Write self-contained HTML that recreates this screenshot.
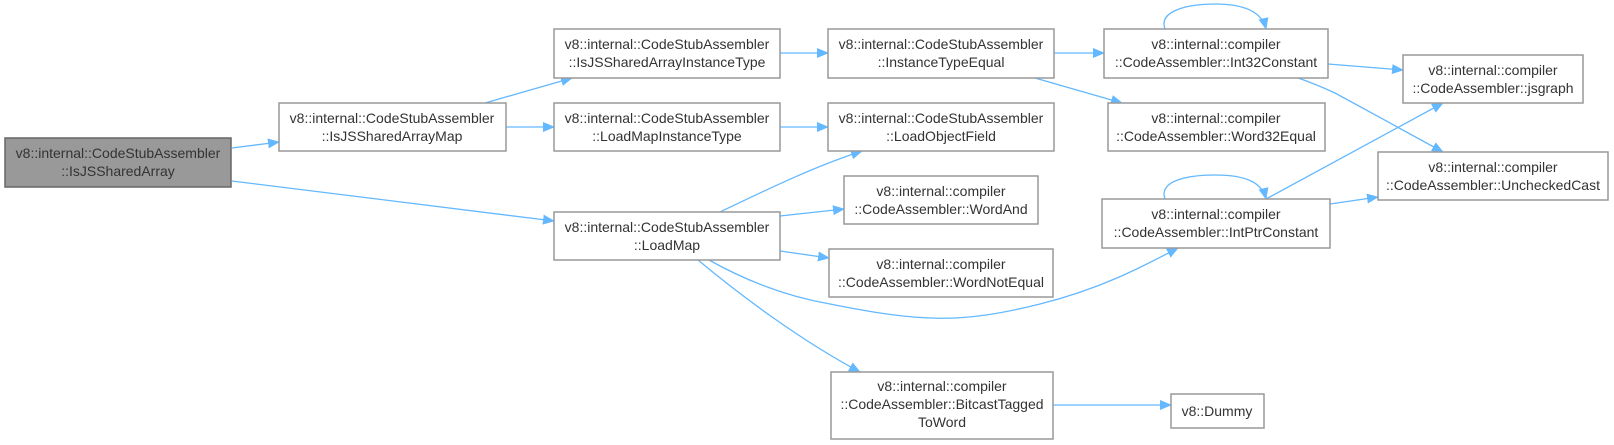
<!DOCTYPE html>
<html><head><meta charset="utf-8"><style>
html,body{margin:0;padding:0;background:#fff;}
svg{display:block;}
text{font-family:"Liberation Sans",sans-serif;font-size:14px;fill:#333;text-anchor:middle;}
.b{fill:#fff;stroke:#999;stroke-width:1.5;}
.e{fill:none;stroke:#63b8ff;stroke-width:1.3;}
</style></head><body>
<svg width="1614" height="445" viewBox="0 0 1614 445" xmlns="http://www.w3.org/2000/svg">
<defs><marker id="a" markerWidth="12" markerHeight="10" refX="11" refY="5" orient="auto" markerUnits="userSpaceOnUse"><path d="M0,0 L12,5 L0,10 z" fill="#63b8ff"/></marker></defs>

<!-- edges -->
<path class="e" marker-end="url(#a)" d="M232,148 L279,142"/>
<path class="e" marker-end="url(#a)" d="M232,181 L554,221"/>
<path class="e" marker-end="url(#a)" d="M485,103 L572,78"/>
<path class="e" marker-end="url(#a)" d="M506,127 L554,127"/>
<path class="e" marker-end="url(#a)" d="M780,53 L828,53"/>
<path class="e" marker-end="url(#a)" d="M780,127 L828,127"/>
<path class="e" marker-end="url(#a)" d="M720,212 C760,193 810,168 862,151"/>
<path class="e" marker-end="url(#a)" d="M780,216 L844,209"/>
<path class="e" marker-end="url(#a)" d="M780,251 L829,258"/>
<path class="e" marker-end="url(#a)" d="M698,260 C740,295 800,340 860,372"/>
<path class="e" marker-end="url(#a)" d="M709,260 C750,283 790,297 830,304 C920,322 960,324 1040,304 C1100,289 1140,268 1178,248"/>
<path class="e" marker-end="url(#a)" d="M1054,53 L1104,53"/>
<path class="e" marker-end="url(#a)" d="M1035,78 L1122,103"/>
<path class="e" marker-end="url(#a)" d="M1328,64 L1403,70"/>
<path class="e" marker-end="url(#a)" d="M1298,78 C1310,82 1322,87 1335,93 C1370,112 1410,134 1443,152"/>
<path class="e" marker-end="url(#a)" d="M1266,199 L1443,103"/>
<path class="e" marker-end="url(#a)" d="M1330,204 L1378,197"/>
<path class="e" marker-end="url(#a)" d="M1053,405 L1171,405"/>
<path class="e" marker-end="url(#a)" d="M1165,29 C1158,10 1190,4 1215,4 C1245,4 1262,12 1266,29"/>
<path class="e" marker-end="url(#a)" d="M1165,199 C1158,180 1190,175 1215,175 C1245,175 1262,182 1266,199"/>

<!-- nodes -->
<rect x="5" y="138" width="226" height="49" fill="#999" stroke="#666" stroke-width="1.5"/>
<text x="118" y="158">v8::internal::CodeStubAssembler</text>
<text x="118" y="176">::IsJSSharedArray</text>

<rect class="b" x="279" y="103" width="227" height="48"/>
<text x="392" y="123">v8::internal::CodeStubAssembler</text>
<text x="392" y="141">::IsJSSharedArrayMap</text>

<rect class="b" x="554" y="29" width="226" height="49"/>
<text x="667" y="49">v8::internal::CodeStubAssembler</text>
<text x="667" y="67">::IsJSSharedArrayInstanceType</text>

<rect class="b" x="554" y="103" width="226" height="48"/>
<text x="667" y="123">v8::internal::CodeStubAssembler</text>
<text x="667" y="141">::LoadMapInstanceType</text>

<rect class="b" x="554" y="212" width="226" height="48"/>
<text x="667" y="232">v8::internal::CodeStubAssembler</text>
<text x="667" y="250">::LoadMap</text>

<rect class="b" x="828" y="29" width="226" height="49"/>
<text x="941" y="49">v8::internal::CodeStubAssembler</text>
<text x="941" y="67">::InstanceTypeEqual</text>

<rect class="b" x="828" y="103" width="226" height="48"/>
<text x="941" y="123">v8::internal::CodeStubAssembler</text>
<text x="941" y="141">::LoadObjectField</text>

<rect class="b" x="844" y="176" width="194" height="48"/>
<text x="941" y="196">v8::internal::compiler</text>
<text x="941" y="214">::CodeAssembler::WordAnd</text>

<rect class="b" x="829" y="249" width="224" height="48"/>
<text x="941" y="269">v8::internal::compiler</text>
<text x="941" y="287">::CodeAssembler::WordNotEqual</text>

<rect class="b" x="831" y="372" width="222" height="67"/>
<text x="942" y="391">v8::internal::compiler</text>
<text x="942" y="409">::CodeAssembler::BitcastTagged</text>
<text x="942" y="427">ToWord</text>

<rect class="b" x="1171" y="394" width="93" height="34"/>
<text x="1217" y="416">v8::Dummy</text>

<rect class="b" x="1104" y="29" width="224" height="49"/>
<text x="1216" y="49">v8::internal::compiler</text>
<text x="1216" y="67">::CodeAssembler::Int32Constant</text>

<rect class="b" x="1108" y="103" width="217" height="48"/>
<text x="1216" y="123">v8::internal::compiler</text>
<text x="1216" y="141">::CodeAssembler::Word32Equal</text>

<rect class="b" x="1102" y="199" width="228" height="49"/>
<text x="1216" y="219">v8::internal::compiler</text>
<text x="1216" y="237">::CodeAssembler::IntPtrConstant</text>

<rect class="b" x="1403" y="55" width="180" height="48"/>
<text x="1493" y="75">v8::internal::compiler</text>
<text x="1493" y="93">::CodeAssembler::jsgraph</text>

<rect class="b" x="1378" y="152" width="230" height="48"/>
<text x="1493" y="172">v8::internal::compiler</text>
<text x="1493" y="190">::CodeAssembler::UncheckedCast</text>
</svg>
</body></html>
